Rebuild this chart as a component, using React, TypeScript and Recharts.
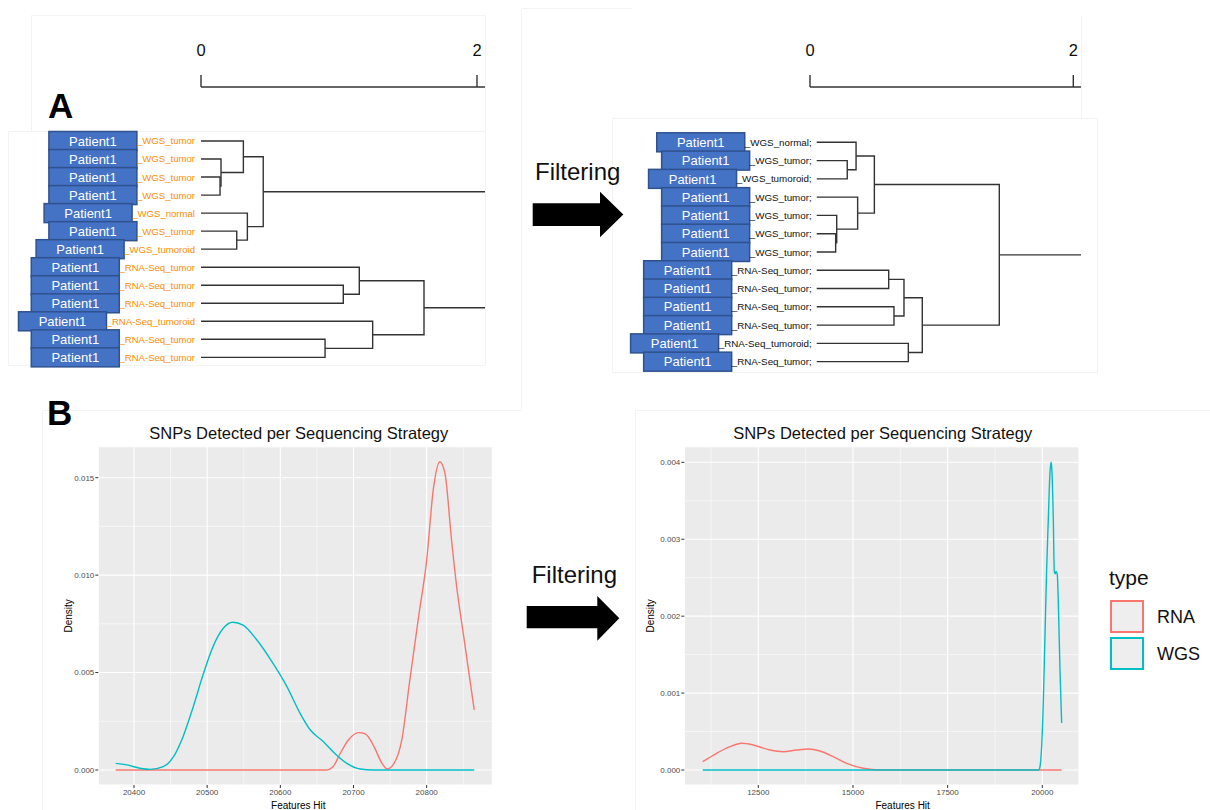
import React from "react";
import {
  CartesianGrid,
  Label,
  Legend,
  Line,
  LineChart,
  ReferenceLine,
  XAxis,
  YAxis,
} from "recharts";

const FONT = '"Liberation Sans", Arial, Helvetica, sans-serif';

// ---------- A: sample clustering, before / after filtering ----------
const beforeLeaves = [
  "_WGS_tumor", "_WGS_tumor", "_WGS_tumor", "_WGS_tumor", "_WGS_normal", "_WGS_tumor", "_WGS_tumoroid",
  "_RNA-Seq_tumor", "_RNA-Seq_tumor", "_RNA-Seq_tumor", "_RNA-Seq_tumoroid", "_RNA-Seq_tumor", "_RNA-Seq_tumor",
];
// hclust style: negative = leaf (1-based), positive = earlier merge, then height
const beforeMerges: [number, number, number][] = [
  [-3, -4, 0.138], [-2, 1, 0.145], [-1, 2, 0.307], [-6, -7, 0.259], [-5, 4, 0.336], [3, 5, 0.451],
  [-9, -10, 1.031], [-8, 7, 1.147], [-12, -13, 0.899], [-11, 9, 1.244], [8, 10, 1.616], [6, 11, 2.6],
];

const afterLeaves = [
  "_WGS_normal;", "_WGS_tumor;", "_WGS_tumoroid;", "_WGS_tumor;", "_WGS_tumor;", "_WGS_tumor;", "_WGS_tumor;",
  "_RNA-Seq_tumor;", "_RNA-Seq_tumor;", "_RNA-Seq_tumor;", "_RNA-Seq_tumor;", "_RNA-Seq_tumoroid;", "_RNA-Seq_tumor;",
];
const afterMerges: [number, number, number][] = [
  [-2, -3, 0.232], [-1, 1, 0.299], [-6, -7, 0.144], [-5, 3, 0.152], [-4, 4, 0.311], [2, 5, 0.438],
  [-8, -9, 0.547], [-10, -11, 0.587], [7, 8, 0.663], [-12, -13, 0.696], [9, 10, 0.802], [6, 11, 1.387],
];
const afterRootStem = 2.6; // tree goes on past the crop

const scaleTicks = [0, 2];
const patientId = "Patient1";

// ---------- B: SNP density per sequencing strategy ----------
const seriesNames = ["RNA", "WGS"];
const seriesColors = ["#F8766D", "#00BFC4"];

const rnaBefore: [number, number][] = [
  [20375, 0], [20663, 0], [20672, 0.00017], [20682, 0.00086], [20693, 0.00154], [20707, 0.00192],
  [20716, 0.00185], [20727, 0.00128], [20739, 0.00034], [20746, 0.00005], [20754, 0.00026],
  [20766, 0.00154], [20777, 0.00462], [20789, 0.00787], [20800, 0.01077], [20809, 0.01437],
  [20818, 0.01582], [20825, 0.01522], [20834, 0.0118], [20841, 0.00941], [20850, 0.00701], [20865, 0.00308],
];
const wgsBefore: [number, number][] = [
  [20375, 0.00034], [20390, 0.00026], [20408, 0.00009], [20422, 0.00003], [20440, 0.00017],
  [20454, 0.00068], [20467, 0.00171], [20481, 0.00325], [20495, 0.00496], [20508, 0.00633],
  [20522, 0.00727], [20535, 0.00758], [20549, 0.00744], [20568, 0.00667], [20590, 0.00547],
  [20609, 0.00428], [20627, 0.00291], [20641, 0.00205], [20659, 0.00145], [20672, 0.00094],
  [20691, 0.00034], [20709, 0.00005], [20727, 0], [20865, 0],
];
const rnaAfter: [number, number][] = [
  [11032, 0.000108], [11401, 0.000217], [11753, 0.000303], [12062, 0.000347], [12368, 0.000325],
  [12809, 0.00026], [13160, 0.000238], [13514, 0.00026], [13820, 0.000273], [14129, 0.000247],
  [14481, 0.000173], [14834, 0.000087], [15273, 0.000022], [15714, 0], [20511, 0],
];
const wgsAfter: [number, number][] = [
  [11032, 0], [19900, 0], [19921, 0.00001], [19938, 0.00004], [19982, 0.0003], [20026, 0.00087],
  [20070, 0.00173], [20114, 0.0026], [20158, 0.00325], [20202, 0.00386], [20229, 0.004],
  [20246, 0.00395], [20291, 0.00325], [20317, 0.00258], [20340, 0.00255], [20361, 0.00258],
  [20396, 0.00254], [20423, 0.00217], [20467, 0.0013], [20511, 0.00061],
];

const beforeXTicks = [20400, 20500, 20600, 20700, 20800];
const beforeXMinor = [20450, 20550, 20650, 20750, 20850];
const beforeYTicks = [0, 0.005, 0.01, 0.015];
const beforeYMinor = [0.0025, 0.0075, 0.0125];
const afterXTicks = [12500, 15000, 17500, 20000];
const afterXMinor = [11250, 13750, 16250, 18750];
const afterYTicks = [0, 0.001, 0.002, 0.003, 0.004];
const afterYMinor = [0.0005, 0.0015, 0.0025, 0.0035];

const TITLE = "SNPs Detected per Sequencing Strategy";

const toPoints = (arr: [number, number][]) => arr.map(([x, y]) => ({ x, y }));

let measureCtx: CanvasRenderingContext2D | null = null;
function textWidth(s: string, size: number) {
  if (!measureCtx) measureCtx = document.createElement("canvas").getContext("2d");
  if (!measureCtx) return s.length * size * 0.55;
  measureCtx.font = `${size}px ${FONT}`;
  return measureCtx.measureText(s).width;
}

function treeSegments(merges: [number, number, number][], stem?: number) {
  const nodeH: number[] = [];
  const nodeY: number[] = [];
  const get = (id: number) => (id < 0 ? { h: 0, y: -id - 1 } : { h: nodeH[id - 1], y: nodeY[id - 1] });
  const segs = merges.map(([a, b, h], i) => {
    const A = get(a);
    const B = get(b);
    nodeH[i] = h;
    nodeY[i] = (A.y + B.y) / 2;
    return [
      { x: A.h, y: A.y },
      { x: h, y: A.y },
      { x: h, y: B.y },
      { x: B.h, y: B.y },
    ];
  });
  if (stem !== undefined) {
    const last = merges.length - 1;
    segs.push([
      { x: nodeH[last], y: nodeY[last] },
      { x: stem, y: nodeY[last] },
    ]);
  }
  return segs;
}

type TreeProps = {
  left: number;
  leaves: string[];
  merges: [number, number, number][];
  stem?: number;
  labelColor: string;
  labelSize: number;
  labelRight: number;
  plotLeft: number;
  plotRight: number;
  axisY: number;
  firstRow: number;
  rowStep: number;
  treeZero: number;
  scaleZero: number;
  pxPerUnit: number;
};

const Dendrogram = (p: TreeProps) => {
  const k = p.pxPerUnit;
  const scaleDomain = [(p.plotLeft - p.scaleZero) / k, (p.plotRight - p.scaleZero) / k];
  const treeDomain = [(p.plotLeft - p.treeZero) / k, (p.plotRight - p.treeZero) / k];
  const yTop = -(p.firstRow - p.axisY) / p.rowStep;
  const yBottom = p.leaves.length;
  const height = p.axisY + (yBottom - yTop) * p.rowStep;
  const segs = treeSegments(p.merges, p.stem);
  // invisible carrier so the scale-bar axis has something to scale
  const scaleCarrier = scaleTicks.map((v) => ({ x: v, y: yTop }));

  const renderLeaf = (props: any) => {
    const idx = props.payload?.value;
    const label = p.leaves[idx];
    if (label === undefined) return <g />;
    const y = props.y;
    const boxRight = p.labelRight - textWidth(label, p.labelSize);
    return (
      <g>
        <rect x={boxRight - 88} y={y - 9.5} width={88} height={19} fill="#4472C4" stroke="#2F528F" strokeWidth={1.5} />
        <text x={boxRight - 44} y={y} dy="0.36em" textAnchor="middle" fill="#FFFFFF" fontSize={13} fontFamily={FONT}>
          {patientId}
        </text>
        <text x={p.labelRight} y={y} dy="0.36em" textAnchor="end" fill={p.labelColor} fontSize={p.labelSize} fontFamily={FONT}>
          {label}
        </text>
      </g>
    );
  };

  const renderScaleTick = (props: any) => (
    <text x={props.x} y={56} textAnchor="middle" fontSize={16.5} fill="#111" fontFamily={FONT}>
      {props.payload?.value}
    </text>
  );

  return (
    <div style={{ position: "absolute", left: p.left, top: 0 }}>
      <LineChart width={p.plotRight} height={height} margin={{ top: 0, right: 0, bottom: 0, left: 0 }}>
        <XAxis
          xAxisId="scale"
          type="number"
          dataKey="x"
          orientation="top"
          domain={scaleDomain}
          allowDataOverflow
          ticks={scaleTicks}
          interval={0}
          height={p.axisY}
          tickSize={12}
          axisLine={{ stroke: "#333", strokeWidth: 1.4 }}
          tickLine={{ stroke: "#333", strokeWidth: 1.4 }}
          tick={renderScaleTick}
        />
        <XAxis xAxisId="tree" type="number" dataKey="x" domain={treeDomain} allowDataOverflow hide />
        <YAxis
          type="number"
          domain={[yTop, yBottom]}
          reversed
          allowDataOverflow
          ticks={p.leaves.map((_, i) => i)}
          interval={0}
          width={p.plotLeft}
          axisLine={false}
          tickLine={false}
          tick={renderLeaf}
        />
        <Line
          xAxisId="scale"
          data={scaleCarrier}
          dataKey="y"
          stroke="none"
          strokeWidth={0}
          dot={false}
          activeDot={false}
          legendType="none"
          isAnimationActive={false}
        />
        {segs.map((seg, i) => (
          <Line
            key={i}
            xAxisId="tree"
            data={seg}
            dataKey="y"
            type="linear"
            stroke="#333"
            strokeWidth={1.4}
            dot={false}
            activeDot={false}
            isAnimationActive={false}
          />
        ))}
      </LineChart>
    </div>
  );
};

const TypeLegend = ({ payload }: any) => (
  <div style={{ position: "relative", width: 110, height: 120, fontFamily: FONT, color: "#111" }}>
    <div style={{ position: "absolute", left: 1, top: 3, fontSize: 21, lineHeight: "24px" }}>type</div>
    {(payload || []).map((item: any, i: number) => (
      <div key={item.value} style={{ position: "absolute", left: 2, top: 37 + i * 37 }}>
        <div
          style={{
            width: 34,
            height: 33,
            boxSizing: "border-box",
            border: `2.5px solid ${item.color}`,
            background: "#EEEEEE",
          }}
        />
        <span style={{ position: "absolute", left: 47, top: 7, fontSize: 18, lineHeight: "20px" }}>{item.value}</span>
      </div>
    ))}
  </div>
);

type DensityProps = {
  left: number;
  width: number;
  rightMargin: number;
  yAxisWidth: number;
  xDomain: number[];
  yDomain: number[];
  xTicks: number[];
  xMinor: number[];
  yTicks: number[];
  yMinor: number[];
  rna: [number, number][];
  wgs: [number, number][];
  yTitleX: number;
  xTitleDx: number;
  legend?: boolean;
};

const DensityPanel = (p: DensityProps) => {
  const top = 420;
  const height = 390;
  const marginTop = 26.7;
  const plotH = height - marginTop - 25;
  const series = [p.rna, p.wgs];
  const tickStyle = { fontSize: 8, fill: "#4D4D4D", fontFamily: FONT };
  return (
    <div style={{ position: "absolute", left: p.left, top }}>
      <LineChart width={p.width} height={height} margin={{ top: marginTop, right: p.rightMargin, bottom: 0, left: 0 }}>
        <CartesianGrid fill="#EBEBEB" fillOpacity={1} stroke="#FFFFFF" strokeWidth={1.1} />
        {p.xMinor.map((v) => (
          <ReferenceLine key={`xm${v}`} x={v} stroke="#FFFFFF" strokeWidth={0.55} />
        ))}
        {p.yMinor.map((v) => (
          <ReferenceLine key={`ym${v}`} y={v} stroke="#FFFFFF" strokeWidth={0.55} />
        ))}
        <XAxis
          type="number"
          dataKey="x"
          domain={p.xDomain}
          allowDataOverflow
          ticks={p.xTicks}
          interval={0}
          height={25}
          axisLine={false}
          tickLine={{ stroke: "#333" }}
          tickSize={3}
          tickMargin={1}
          tick={tickStyle}
        >
          <Label value="Features Hit" position="insideBottom" offset={1} dx={p.xTitleDx} fontSize={10} fill="#000" fontFamily={FONT} />
        </XAxis>
        <YAxis
          type="number"
          domain={p.yDomain}
          allowDataOverflow
          ticks={p.yTicks}
          interval={0}
          width={p.yAxisWidth}
          tickFormatter={(v: number) => v.toFixed(3)}
          axisLine={false}
          tickLine={{ stroke: "#333" }}
          tickSize={3}
          tickMargin={1}
          tick={tickStyle}
        >
          <Label
            value="Density"
            content={(lp: any) => {
              const vb = lp.viewBox || {};
              const cy = vb.height ? vb.y + vb.height / 2 : marginTop + plotH / 2;
              return (
                <text
                  x={p.yTitleX}
                  y={cy}
                  transform={`rotate(-90 ${p.yTitleX} ${cy})`}
                  textAnchor="middle"
                  dominantBaseline="central"
                  fontSize={10}
                  fill="#000"
                  fontFamily={FONT}
                >
                  {lp.value}
                </text>
              );
            }}
          />
        </YAxis>
        {series.map((s, i) => (
          <Line
            key={seriesNames[i]}
            name={seriesNames[i]}
            data={toPoints(s)}
            dataKey="y"
            type="monotone"
            stroke={seriesColors[i]}
            strokeWidth={1.4}
            dot={false}
            activeDot={false}
            isAnimationActive={false}
          />
        ))}
        {p.legend && (
          <Legend
            layout="horizontal"
            verticalAlign="middle"
            align="center"
            wrapperStyle={{ left: 478, top: 143, width: 110, height: 120 }}
            content={TypeLegend}
          />
        )}
      </LineChart>
    </div>
  );
};

const Arrow = ({ bodyX0, bodyX1, bodyY0, bodyY1, headY0, headY1, tipX }: any) => {
  const mid = (headY0 + headY1) / 2;
  const pts = [
    [bodyX0, bodyY0], [bodyX1, bodyY0], [bodyX1, headY0], [tipX, mid],
    [bodyX1, headY1], [bodyX1, bodyY1], [bodyX0, bodyY1],
  ];
  return <polygon points={pts.map((q) => q.join(",")).join(" ")} fill="#000" />;
};

const Title = ({ cx }: { cx: number }) => (
  <div
    style={{
      position: "absolute",
      left: cx - 200,
      top: 423,
      width: 400,
      textAlign: "center",
      fontSize: 16.5,
      lineHeight: "20px",
      color: "#111",
      whiteSpace: "nowrap",
    }}
  >
    {TITLE}
  </div>
);

export default function App() {
  return (
    <div
      style={{
        position: "absolute",
        left: 0,
        top: 0,
        width: 1210,
        height: 810,
        background: "#FFFFFF",
        overflow: "hidden",
        fontFamily: FONT,
      }}
    >
      {/* faint panel frames of the composite figure */}
      <svg width={1210} height={810} style={{ position: "absolute", left: 0, top: 0 }}>
        <g fill="none" stroke="#F3F3F3" strokeWidth={1}>
          <path d="M31.5,131.5 V15.5 H485.5 V131.5" />
          <path d="M8.5,131.5 H485.5 V365.5 H8.5 Z" />
          <path d="M521.5,8.5 V410.5 H42.5 V810" />
          <path d="M521.5,8.5 H632.5" />
          <path d="M635.5,810 V410.5 H1210" />
          <path d="M1081.5,15.5 V118.5" />
          <path d="M612.5,118.5 H1097.5 V372.5 H612.5 Z" />
        </g>
        <Arrow bodyX0={532.7} bodyX1={600} bodyY0={203.3} bodyY1={226} headY0={191.7} headY1={237.3} tipX={623.3} />
        <Arrow bodyX0={526.7} bodyX1={597.3} bodyY0={606} bodyY1={628.3} headY0={596} headY1={640.7} tipX={619.3} />
        <text x={535} y={180} fontSize={24} fill="#111" fontFamily={FONT}>Filtering</text>
        <text x={531.7} y={583.3} fontSize={24} fill="#111" fontFamily={FONT}>Filtering</text>
        <text x={48} y={118} fontSize={35} fontWeight="bold" fill="#000" fontFamily={FONT}>A</text>
        <text x={47} y={425} fontSize={35} fontWeight="bold" fill="#000" fontFamily={FONT}>B</text>
      </svg>

      <Dendrogram
        left={0}
        leaves={beforeLeaves}
        merges={beforeMerges}
        labelColor="#FF8C00"
        labelSize={9.6}
        labelRight={195}
        plotLeft={201}
        plotRight={485}
        axisY={87}
        firstRow={141}
        rowStep={18.03}
        treeZero={201}
        scaleZero={201}
        pxPerUnit={138}
      />
      <Dendrogram
        left={600}
        leaves={afterLeaves}
        merges={afterMerges}
        stem={afterRootStem}
        labelColor="#111111"
        labelSize={9.8}
        labelRight={211.7}
        plotLeft={210}
        plotRight={481}
        axisY={87}
        firstRow={142.3}
        rowStep={18.28}
        treeZero={216.7}
        scaleZero={210}
        pxPerUnit={131.65}
      />

      <Title cx={298.8} />
      <Title cx={882.7} />
      <DensityPanel
        left={40}
        width={460}
        rightMargin={7.7}
        yAxisWidth={58.3}
        xDomain={[20351.2, 20889.7]}
        yDomain={[-0.00077, 0.01659]}
        xTicks={beforeXTicks}
        xMinor={beforeXMinor}
        yTicks={beforeYTicks}
        yMinor={beforeYMinor}
        rna={rnaBefore}
        wgs={wgsBefore}
        yTitleX={28.3}
        xTitleDx={3}
      />
      <DensityPanel
        left={630}
        width={580}
        rightMargin={131}
        yAxisWidth={54.3}
        xDomain={[10546, 20969]}
        yDomain={[-0.000195, 0.004203]}
        xTicks={afterXTicks}
        xMinor={afterXMinor}
        yTicks={afterYTicks}
        yMinor={afterYMinor}
        rna={rnaAfter}
        wgs={wgsAfter}
        yTitleX={20.7}
        xTitleDx={21}
        legend
      />
    </div>
  );
}
